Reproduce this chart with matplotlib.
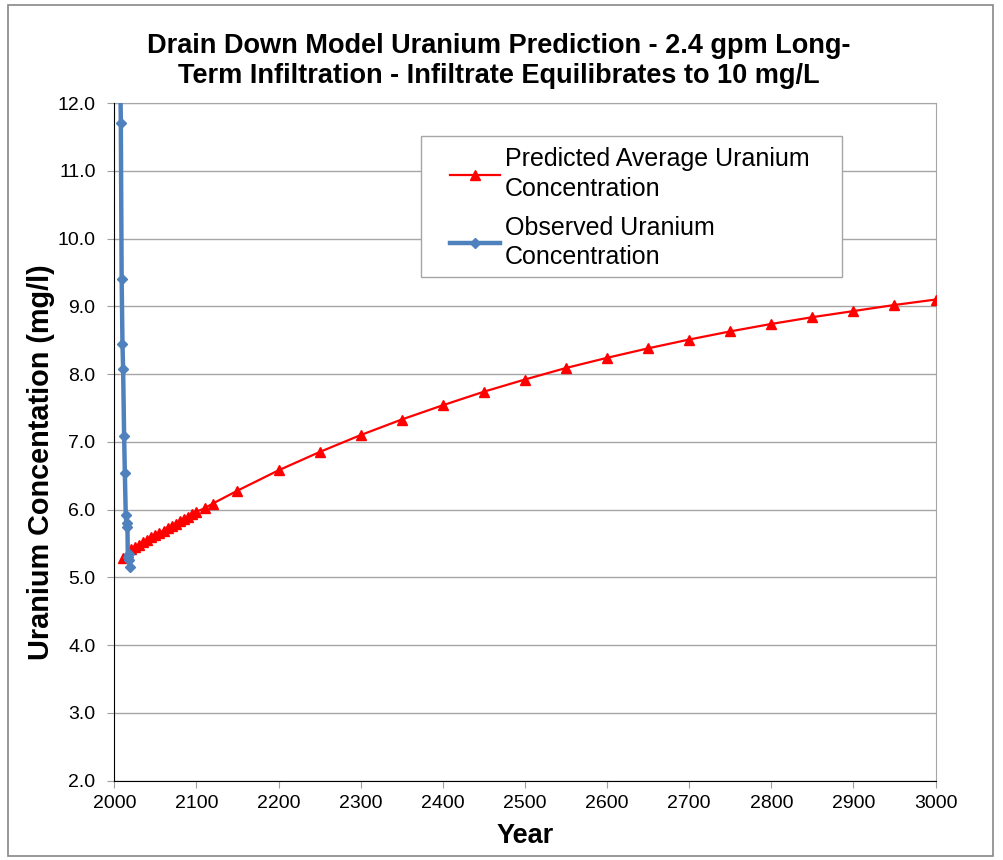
import numpy as np
import pandas as pd
from matplotlib import pyplot as plt
from matplotlib.patches import Rectangle

plt.rcParams['font.family'] = ['Liberation Sans', 'DejaVu Sans']

# predicted average uranium concentration (red)
pred_year = [2011, 2020, 2025, 2030, 2035, 2040, 2045, 2050, 2055, 2060, 2065, 2070,
             2075, 2080, 2085, 2090, 2095, 2100, 2110, 2120, 2150, 2200, 2250, 2300,
             2350, 2400, 2450, 2500, 2550, 2600, 2650, 2700, 2750, 2800, 2850, 2900,
             2950, 3000]
pred_conc = [5.29, 5.42, 5.45, 5.48, 5.52, 5.55, 5.59, 5.62, 5.66, 5.69, 5.73, 5.76,
             5.79, 5.83, 5.86, 5.89, 5.93, 5.97, 6.02, 6.09, 6.28, 6.58, 6.85, 7.10,
             7.33, 7.54, 7.74, 7.92, 8.09, 8.24, 8.38, 8.51, 8.63, 8.74, 8.84, 8.93,
             9.02, 9.10]

# observed uranium concentration (blue)
obs_year = [2006.5, 2008.0, 2009.0, 2010.0, 2010.8, 2012.0, 2012.9, 2014.0, 2015.0,
            2016.0, 2016.5, 2017.5, 2018.5, 2019.5]
obs_conc = [13.5, 11.70, 9.40, 8.45, 8.07, 7.09, 6.54, 5.92, 5.75, 5.80, 5.30, 5.35,
            5.25, 5.16]

xticks = np.arange(2000, 3001, 100)
yticks = np.arange(2.0, 12.01, 1.0)

fig = plt.figure(figsize=(10.04, 8.6), dpi=100)
ax = fig.add_axes([0.1138, 0.0922, 0.8180, 0.7880])

ax.plot(pred_year, pred_conc, color='#FF0000', lw=1.6, marker='^', ms=7,
        label='Predicted Average Uranium\nConcentration', zorder=3)
ax.plot(obs_year, obs_conc, color='#4F81BD', lw=3.2, marker='D', ms=5.5,
        label='Observed Uranium\nConcentration', zorder=4)

ax.set_xlim(2000, 3000)
ax.set_ylim(2.0, 12.0)
ax.set_xticks(xticks)
ax.set_yticks(yticks)
ax.set_yticklabels(['%.1f' % v for v in yticks])
ax.tick_params(axis='both', labelsize=14, color='#A0A0A0', length=5, direction='out')
ax.tick_params(axis='x', pad=5)
ax.tick_params(axis='y', pad=8.5)
ax.grid(axis='y', color='#A6A6A6', lw=1)
ax.set_axisbelow(True)
for s in ['top', 'right']:
    ax.spines[s].set_color('#A6A6A6')
for s in ['left', 'bottom']:
    ax.spines[s].set_color('black')
    ax.spines[s].set_zorder(5)

ax.set_xlabel('Year', fontsize=19.5, fontweight='bold')
ax.set_ylabel('Uranium Concentation (mg/l)', fontsize=20.8, fontweight='bold')
ax.xaxis.set_label_coords(0.5, -0.062)
ax.yaxis.set_label_coords(-0.072, 0.47)

fig.text(0.497, 0.929, 'Drain Down Model Uranium Prediction - 2.4 gpm Long-\n'
         'Term Infiltration - Infiltrate Equilibrates to 10 mg/L',
         ha='center', va='center', fontsize=19.5, fontweight='bold', linespacing=1.2)

leg = ax.legend(loc='upper left', bbox_to_anchor=(0.4088, 0.935), fontsize=18,
                frameon=False, handlelength=2.0, handletextpad=0.2,
                labelspacing=0.6, borderpad=0, borderaxespad=0)
for t in leg.get_texts():
    t.set_linespacing(1.3)
ax.add_patch(Rectangle((0.3735, 0.7432), 0.5127, 0.2081, transform=ax.transAxes,
                       facecolor='white', edgecolor='#A6A6A6', lw=1, zorder=6))
leg.set_zorder(7)

fig.patches.append(Rectangle((8 / 1004, 4 / 860), 985 / 1004, 851 / 860,
                             transform=fig.transFigure, fill=False,
                             edgecolor='#888888', lw=1.2))

plt.savefig('out.png', dpi=100)
